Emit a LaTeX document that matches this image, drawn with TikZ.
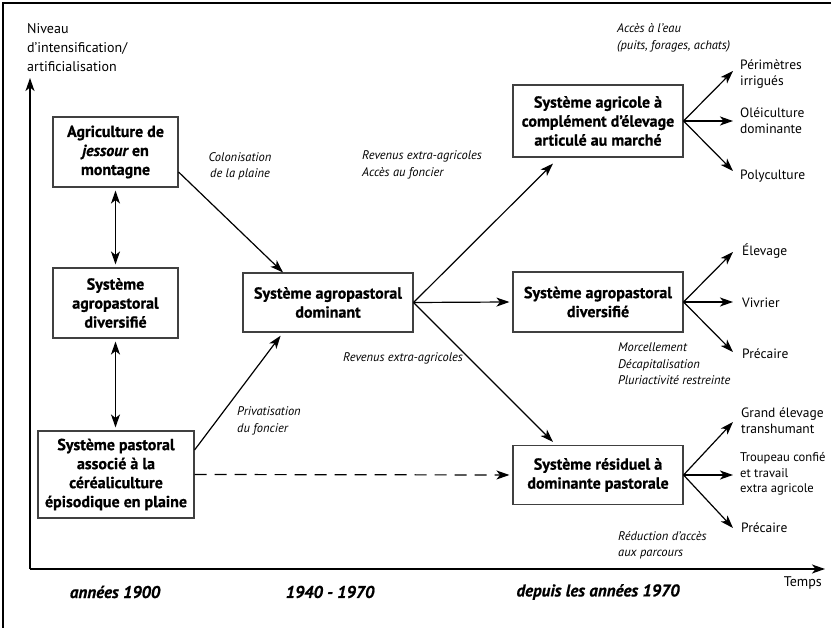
\documentclass[tikz,border=0pt]{standalone}
\usepackage{fontspec}
\setmainfont{PT Sans}
\newfontfamily\heavyfont{PT Sans}[BoldFeatures={FakeBold=0.8},BoldItalicFeatures={FakeBold=0.8}]
\usetikzlibrary{arrows.meta}
\begin{document}
\begin{tikzpicture}[x=1pt,y=-1pt,
  sysbox/.style={draw=black!75,line width=1.1pt,align=center,inner sep=0pt,font=\heavyfont\bfseries\fontsize{16}{19}\selectfont},
  itlab/.style={inner sep=0pt,align=left,font=\itshape\fontsize{12.5}{16.5}\selectfont},
  reglab/.style={inner sep=0pt,anchor=west,align=left,font=\fontsize{13.5}{16}\selectfont},
  datelab/.style={inner sep=0pt,font=\heavyfont\bfseries\itshape\fontsize{17}{20}\selectfont},
  arr/.style={line width=1.2pt,-{Stealth[length=13pt,width=9pt,inset=3.5pt]}},
  dbl/.style={line width=1.2pt,{Stealth[length=13pt,width=9pt,inset=3.5pt]}-{Stealth[length=13pt,width=9pt,inset=3.5pt]}},
]
\useasboundingbox (0,0) rectangle (831,628);
% frame
\draw[line width=1.4pt] (3,628) -- (3,3) -- (831,3);
% axes
\coordinate (O) at (30,569);
\coordinate (ytop) at (30,78);
\coordinate (xend) at (825,569);
\draw[arr] (O) -- (ytop);
\draw[arr] (O) -- (xend);
\node[inner sep=0pt,anchor=north west,align=left,font=\fontsize{14}{19}\selectfont] (ylab) at (27,23) {Niveau\\d’intensification/\\artificialisation};
\node[inner sep=0pt,anchor=east,font=\fontsize{14}{17}\selectfont] (tlab) at (822,583) {Temps};
% boxes
\node[sysbox,minimum width=125pt,minimum height=70pt] (A) at (115.5,152) {Agriculture de\\{\itshape jessour} en\\montagne};
\node[sysbox,minimum width=125pt,minimum height=70pt] (B) at (115.5,303) {Système\\agropastoral\\diversifié};
\node[sysbox,minimum width=156pt,minimum height=87pt] (C) at (116,474.5) {Système pastoral\\associé à la\\céréaliculture\\épisodique en plaine};
\node[sysbox,minimum width=170pt,minimum height=59pt] (D) at (328,302.5) {Système agropastoral\\dominant};
\node[sysbox,minimum width=170pt,minimum height=72pt] (R1) at (598,121) {Système agricole à\\complément d’élevage\\articulé au marché};
\node[sysbox,minimum width=170pt,minimum height=60pt] (R2) at (598,302) {Système agropastoral\\diversifié};
\node[sysbox,minimum width=170pt,minimum height=59pt] (R3) at (598,475) {Système résiduel à\\dominante pastorale};
% left connectors
\draw[dbl,shorten <=3pt,shorten >=3pt] (A.south) -- (B.north);
\draw[dbl,shorten <=3pt,shorten >=3pt] (B.south) -- (B.south |- C.north);
\draw[arr] ([yshift=-20pt]A.east) -- ([xshift=-45pt]D.north);
\draw[arr,shorten >=4pt] ([yshift=24.5pt]C.east) -- ([xshift=-45pt]D.south);
\draw[arr,dash pattern=on 12pt off 8pt] (C.east) -- ([xshift=-3pt]R3.west);
% central connectors
\draw[arr] (D.east) -- ([xshift=-45pt,yshift=-6pt]R1.south);
\draw[arr] (D.east) -- ([xshift=-3pt]R2.west);
\draw[arr] (D.east) -- ([xshift=-45pt,yshift=3pt]R3.north);
% fans
\coordinate (t1a) at (733,71);  \coordinate (t1b) at (733,121); \coordinate (t1c) at (733,171);
\coordinate (t2a) at (733,252); \coordinate (t2b) at (733,302); \coordinate (t2c) at (733,352);
\coordinate (t3a) at (733,422); \coordinate (t3b) at (733,475); \coordinate (t3c) at (733,528);
\foreach \t in {t1a,t1b,t1c} \draw[arr] (R1.east) -- (\t);
\foreach \t in {t2a,t2b,t2c} \draw[arr] (R2.east) -- (\t);
\foreach \t in {t3a,t3b,t3c} \draw[arr] (R3.east) -- (\t);
\node[reglab] (l1a) at (740,74) {Périmètres\\irrigués};
\node[reglab] (l1b) at (740,121) {Oléiculture\\dominante};
\node[reglab] (l1c) at (740,176) {Polyculture};
\node[reglab] (l2a) at (742,251) {Élevage};
\node[reglab] (l2b) at (742,303) {Vivrier};
\node[reglab] (l2c) at (742,354) {Précaire};
\node[reglab] (l3a) at (741,421) {Grand élevage\\transhumant};
\node[reglab,font=\fontsize{12.6}{15.5}\selectfont] (l3b) at (740,474) {Troupeau confié\\et travail\\extra agricole};
\node[reglab] (l3c) at (741,528) {Précaire};
% italic labels
\node[itlab,align=center] (col) at (240,166.5) {Colonisation\\de la plaine};
\node[itlab,anchor=west] (rev1) at (362,165) {Revenus extra-agricoles\\Accès au foncier};
\node[itlab,anchor=west] (priv) at (237,421) {Privatisation\\du foncier};
\node[itlab,anchor=west] (rev2) at (343,358) {Revenus extra-agricoles};
\node[itlab,anchor=west] (eau) at (617,38) {Accès à l’eau\\(puits, forages, achats)};
\node[itlab,anchor=west] (morc) at (618,364) {Morcellement\\Décapitalisation\\Pluriactivité restreinte};
\node[itlab,anchor=west] (red) at (618,545) {Réduction d’accès\\aux parcours};
% dates
\node[datelab] (d1) at (115,592) {années 1900};
\node[datelab] (d2) at (330,592) {1940 - 1970};
\node[datelab] (d3) at (598,592) {depuis les années 1970};
\end{tikzpicture}
\end{document}
